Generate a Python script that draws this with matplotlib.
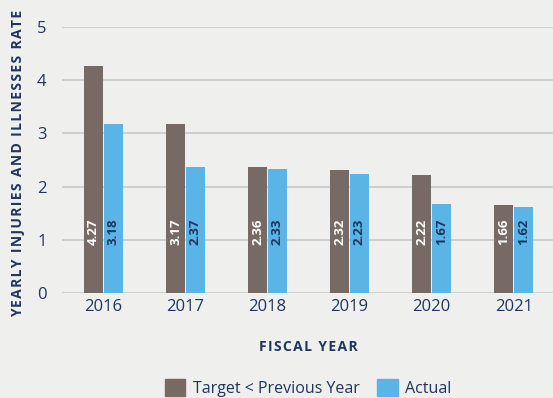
import matplotlib.pyplot as plt
from matplotlib.patches import Patch
import numpy as np

years = ["2016", "2017", "2018", "2019", "2020", "2021"]
target = [4.27, 3.17, 2.36, 2.32, 2.22, 1.66]
actual = [3.18, 2.37, 2.33, 2.23, 1.67, 1.62]
series_names = ["Target < Previous Year", "Actual"]

bg = "#EFEFED"
brown = "#776A64"
blue = "#5AB4E6"
navy = "#1E3560"
grid = "#C9C9C7"

plt.rcParams["font.family"] = ["Open Sans", "DejaVu Sans"]


def tracked(s, sep="\u200a"):
    return sep.join(s)


fig = plt.figure(figsize=(5.53, 3.98), dpi=100, facecolor=bg)
ax = fig.add_axes([62 / 553, 105 / 398, 491 / 553, 266 / 398], facecolor=bg)

x = np.arange(len(years))
w = 0.232
gap = 0.006
b1 = ax.bar(x - w / 2 - gap / 2, target, width=w, color=brown, zorder=3)
b2 = ax.bar(x + w / 2 + gap / 2, actual, width=w, color=blue, zorder=3)

for rect, v in zip(b1, target):
    ax.text(rect.get_x() + rect.get_width() / 2, 1.15, f"{v:.2f}", rotation=90,
            ha="center", va="center", color="white", fontsize=9.5,
            fontweight="bold", zorder=4)
for rect, v in zip(b2, actual):
    ax.text(rect.get_x() + rect.get_width() / 2, 1.15, f"{v:.2f}", rotation=90,
            ha="center", va="center", color=navy, fontsize=9.5,
            fontweight="bold", zorder=4)

ax.set_xlim(-0.506, 5.48)
ax.set_ylim(0, 5)
ax.set_yticks([0, 1, 2, 3, 4, 5])
ax.set_xticks(x)
ax.set_xticklabels(years)
ax.yaxis.grid(True, color=grid, linewidth=1.2, zorder=0)
ax.set_axisbelow(True)
for s in ax.spines.values():
    s.set_visible(False)
ax.tick_params(axis="both", length=0, colors=navy, labelsize=12)
ax.tick_params(axis="y", pad=11)
ax.tick_params(axis="x", pad=4)

fig.text(18 / 553, 1 - 163 / 398, tracked("YEARLY INJURIES AND ILLNESSES RATE"),
         rotation=90, ha="center", va="center", color=navy, fontsize=10,
         fontweight="bold")
fig.text(308 / 553, 1 - 347 / 398, tracked("FISCAL YEAR"), ha="center",
         va="center", color=navy, fontsize=10, fontweight="bold")

handles = [Patch(color=brown), Patch(color=blue)]
fig.legend(handles, series_names, loc="center", ncol=2, frameon=False,
           bbox_to_anchor=(308 / 553, 1 - 388 / 398), fontsize=11.5,
           labelcolor=navy, handlelength=1.3, handleheight=1.3,
           handletextpad=0.45, columnspacing=1.1)

fig.savefig("out.png", dpi=100, facecolor=bg)
